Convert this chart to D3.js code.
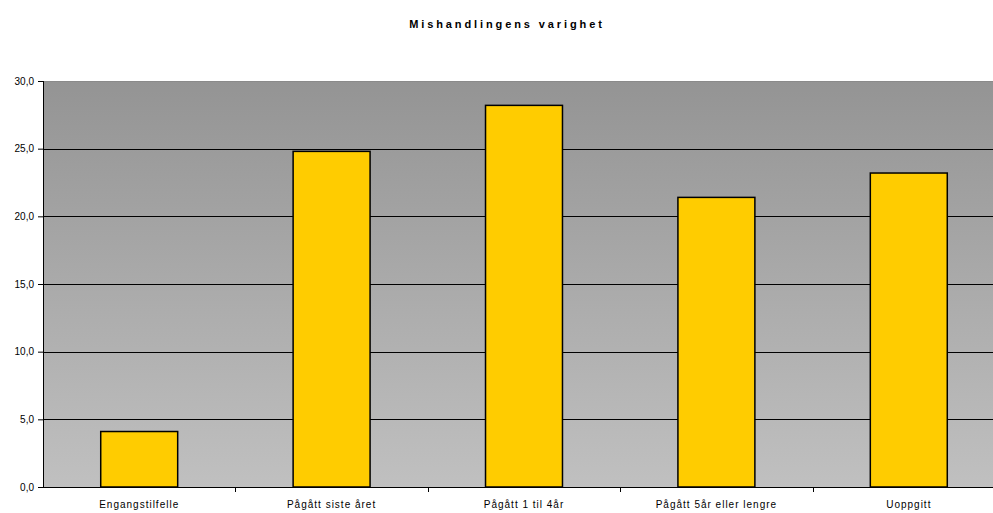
<!DOCTYPE html>
<html>
<head>
<meta charset="utf-8">
<script src="https://cdn.jsdelivr.net/npm/d3@7"></script>
<style>
  body { margin: 0; background: #fff; }
  svg { display: block; font-family: "Liberation Sans", Arial, sans-serif; }
</style>
</head>
<body>
<div id="chart"></div>
<script>
// data
const categories = ["Engangstilfelle", "Pågått siste året", "Pågått 1 til 4år", "Pågått 5år eller lengre", "Uoppgitt"];
const values = [4.1, 24.8, 28.2, 21.4, 23.2];
const yTicks = [0, 5, 10, 15, 20, 25, 30];
const title = "Mishandlingens varighet";

const outerW = 993, outerH = 513;
const margin = { top: 81, right: -12, bottom: 26, left: 43 };
const width = outerW - margin.left - margin.right;
const height = outerH - margin.top - margin.bottom;

const svg = d3.select("#chart").append("svg")
  .attr("width", outerW).attr("height", outerH);

const defs = svg.append("defs");
const grad = defs.append("linearGradient").attr("id", "bg")
  .attr("x1", 0).attr("y1", 0).attr("x2", 0).attr("y2", 1);
grad.append("stop").attr("offset", "0%").attr("stop-color", "#949494");
grad.append("stop").attr("offset", "100%").attr("stop-color", "#c0c0c0");

svg.append("text")
  .attr("x", 507).attr("y", 28)
  .attr("text-anchor", "middle")
  .attr("font-size", 11).attr("font-weight", "bold")
  .attr("letter-spacing", 2.9)
  .text(title);

const g = svg.append("g").attr("transform", `translate(${margin.left},${margin.top})`);

const x = d3.scaleBand().domain(categories).range([0, width]).paddingInner(0.6).paddingOuter(0.3);
const xOuter = d3.scaleBand().domain(categories).range([0, width]);
const y = d3.scaleLinear().domain([0, 30]).range([height, 0]);

g.append("rect").attr("width", width).attr("height", height).attr("fill", "url(#bg)");
g.append("line").attr("x1", 0).attr("x2", width).attr("y1", 0.5).attr("y2", 0.5)
  .attr("stroke", "#8a8a8a");

// gridlines
g.append("g").selectAll("line").data(yTicks.filter(d => d > 0 && d < 30)).join("line")
  .attr("x1", 0).attr("x2", width)
  .attr("y1", d => Math.round(y(d)) + 0.5).attr("y2", d => Math.round(y(d)) + 0.5)
  .attr("stroke", "#000").attr("stroke-width", 1);

// bars
g.append("g").selectAll("rect").data(values).join("rect")
  .attr("x", (d, i) => x(categories[i]))
  .attr("y", d => y(d))
  .attr("width", x.bandwidth())
  .attr("height", d => height - y(d))
  .attr("fill", "#ffcc00")
  .attr("stroke", "#000").attr("stroke-width", 1.5);

// y axis
const yAxis = g.append("g")
  .call(d3.axisLeft(y).tickValues(yTicks).tickSize(5).tickFormat(d => d3.format(".1f")(d).replace(".", ",")));
yAxis.select(".domain").attr("stroke", "#000").attr("d", `M0.5,0V${height}`);
yAxis.selectAll("text").attr("font-size", 10).attr("fill", "#000")
  .attr("font-family", "Liberation Sans, Arial, sans-serif").attr("dx", -1);

// x axis
const xAxisG = g.append("g").attr("transform", `translate(0,${height})`);
xAxisG.append("line").attr("x1", 0).attr("x2", width).attr("y1", 0.5).attr("y2", 0.5).attr("stroke", "#000");
xAxisG.selectAll("line.tick").data(categories.slice(1)).join("line")
  .attr("class", "tick")
  .attr("x1", d => Math.round(xOuter(d)) + 0.5).attr("x2", d => Math.round(xOuter(d)) + 0.5)
  .attr("y1", 0).attr("y2", 5).attr("stroke", "#000");
xAxisG.selectAll("text").data(categories).join("text")
  .attr("x", d => xOuter(d) + xOuter.bandwidth() / 2)
  .attr("y", 21)
  .attr("text-anchor", "middle")
  .attr("font-size", 10)
  .attr("letter-spacing", 1)
  .text(d => d);
</script>
</body>
</html>
